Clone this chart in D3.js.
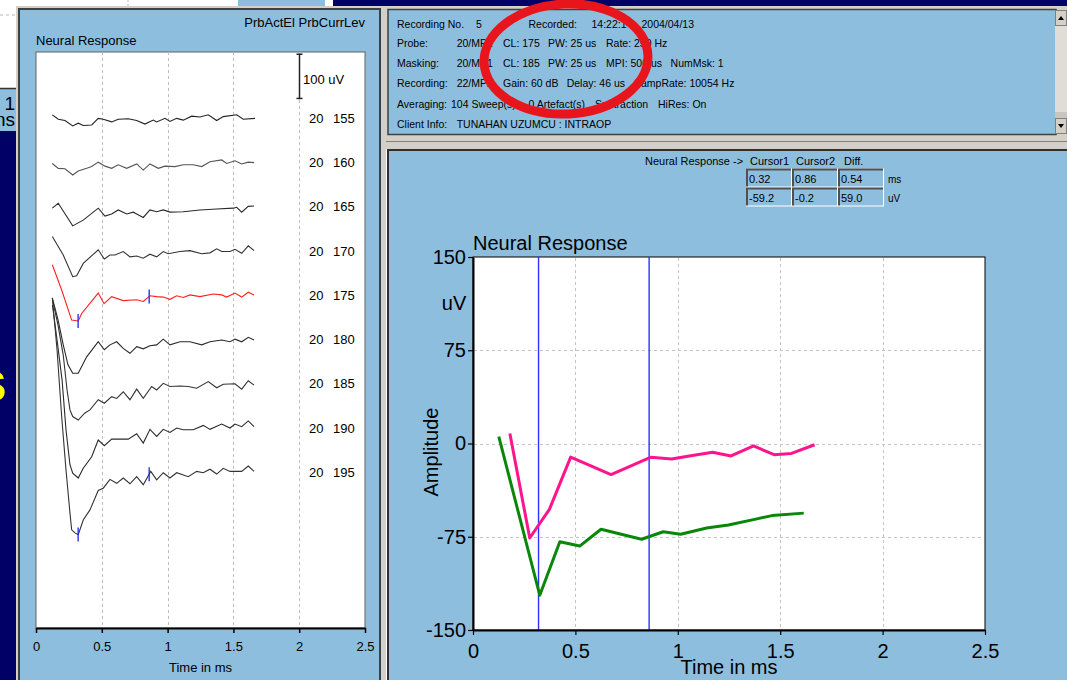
<!DOCTYPE html>
<html><head><meta charset="utf-8">
<script src="https://cdn.jsdelivr.net/npm/d3@7"></script>
<style>
body{margin:0;background:#fff;}
svg{display:block;font-family:"Liberation Sans",Arial,sans-serif;}
</style>
</head><body>
<svg id="c" width="1067" height="680"></svg>
<script>
// ---------------- DATA ----------------
const electrode = "20";
const levels = ["155","160","165","170","175","180","185","190","195"];
const selectedLevel = "175";
const markedLevels = ["175","195"];
// each trace: [time ms, amplitude uV]
const trace155 = [[0.124,8],[0.169,-2],[0.220,-5],[0.279,-17],[0.321,-11],[0.359,-16],[0.423,-15],[0.473,0],[0.511,-2],[0.575,-8],[0.625,-2],[0.701,-1],[0.765,-5],[0.828,-13],[0.891,-4],[0.917,-8],[0.980,0],[1.018,-7],[1.069,0],[1.119,-4],[1.183,5],[1.246,3],[1.309,8],[1.373,-5],[1.423,4],[1.525,8],[1.575,-2],[1.664,0]];
const trace160 = [[0.124,-2],[0.169,-13],[0.220,-14],[0.279,-28],[0.321,-19],[0.385,-13],[0.423,-9],[0.473,1],[0.524,-8],[0.575,-13],[0.625,-5],[0.689,-13],[0.765,-3],[0.815,-17],[0.866,-3],[0.929,-13],[0.980,-8],[1.056,-9],[1.119,-5],[1.195,-5],[1.259,-9],[1.322,2],[1.411,6],[1.449,-2],[1.512,4],[1.563,-3],[1.613,1],[1.657,0]];
const trace165 = [[0.124,-3],[0.169,8],[0.279,-43],[0.359,-30],[0.473,-3],[0.524,-21],[0.575,-16],[0.625,-7],[0.689,-16],[0.739,-12],[0.765,-16],[0.815,-24],[0.866,-7],[0.917,-11],[0.967,-7],[1.018,-12],[1.119,-11],[1.246,-7],[1.373,-5],[1.499,-3],[1.525,-1],[1.563,-12],[1.613,1],[1.657,2]];
const trace170 = [[0.124,33],[0.207,-9],[0.279,-58],[0.309,-56],[0.359,-28],[0.473,3],[0.519,-18],[0.562,-9],[0.600,-9],[0.663,-1],[0.714,-13],[0.765,-11],[0.815,-16],[0.866,-7],[0.917,-13],[0.967,-1],[1.005,-6],[1.094,-1],[1.170,1],[1.259,-6],[1.322,-4],[1.373,5],[1.411,-1],[1.474,-1],[1.512,4],[1.563,-5],[1.613,12],[1.657,1]];
const trace175 = [[0.124,69],[0.195,12],[0.271,-56],[0.321,-58],[0.347,-41],[0.473,5],[0.517,-19],[0.575,-3],[0.663,-12],[0.765,-10],[0.815,-14],[0.866,-1],[0.917,-3],[0.967,-4],[1.018,-9],[1.069,-1],[1.119,-5],[1.170,1],[1.246,-3],[1.347,3],[1.411,1],[1.449,-4],[1.512,5],[1.563,-4],[1.613,7],[1.657,1]];
const trace180 = [[0.124,94],[0.167,45],[0.207,-12],[0.243,-57],[0.279,-76],[0.321,-76],[0.385,-39],[0.473,-5],[0.519,-23],[0.562,-12],[0.613,-5],[0.663,-20],[0.714,-31],[0.765,-16],[0.815,-21],[0.866,-14],[0.917,-12],[0.967,1],[1.018,-12],[1.094,-5],[1.170,-5],[1.259,-12],[1.322,-5],[1.411,-1],[1.474,-5],[1.512,1],[1.563,-5],[1.613,5],[1.657,-1]];
const trace185 = [[0.125,190],[0.167,133],[0.207,65],[0.236,-14],[0.258,-59],[0.279,-74],[0.321,-82],[0.372,-66],[0.410,-59],[0.473,-36],[0.519,-44],[0.575,-29],[0.613,-33],[0.663,-18],[0.714,-36],[0.765,-12],[0.815,-33],[0.879,-6],[0.917,-14],[0.967,1],[1.018,-6],[1.094,-5],[1.157,-6],[1.221,-10],[1.309,5],[1.373,-9],[1.423,-1],[1.512,0],[1.563,-12],[1.613,7],[1.657,-3]];
const trace190 = [[0.125,278],[0.160,199],[0.198,109],[0.228,-4],[0.258,-83],[0.279,-102],[0.321,-113],[0.359,-91],[0.423,-65],[0.473,-27],[0.519,-40],[0.575,-25],[0.613,-25],[0.701,-25],[0.765,-13],[0.815,-34],[0.866,-3],[0.917,-19],[0.967,-3],[1.018,-10],[1.069,0],[1.119,-4],[1.195,-4],[1.271,6],[1.322,-3],[1.411,9],[1.474,0],[1.512,9],[1.563,3],[1.613,16],[1.657,3]];
const trace195 = [[0.124,394],[0.160,277],[0.195,126],[0.228,5],[0.258,-92],[0.271,-130],[0.296,-137],[0.321,-141],[0.359,-108],[0.410,-85],[0.473,-41],[0.511,-36],[0.562,-16],[0.613,-25],[0.663,-13],[0.714,-26],[0.765,-10],[0.815,-28],[0.872,2],[0.917,-17],[0.967,-1],[1.018,-13],[1.069,-1],[1.157,-10],[1.221,2],[1.271,-1],[1.322,7],[1.373,-4],[1.423,9],[1.474,2],[1.563,2],[1.613,14],[1.657,2]];
const traces = [trace155,trace160,trace165,trace170,trace175,trace180,trace185,trace190,trace195];
const traceSpacingUv = 100;
const scaleBarUv = 100;
const leftTimeTicks = [0,0.5,1,1.5,2,2.5];

const rightTimeTicks = [0,0.5,1,1.5,2,2.5];
const rightAmpTicks = [-150,-75,0,75,150];
const pinkTimes  = [0.18,0.277,0.373,0.477,0.674,0.869,0.97,1.056,1.17,1.26,1.37,1.47,1.555,1.668];
const pinkValues = [8,-76,-53,-11,-25,-11,-12.5,-10,-7,-10,-2,-9,-8,-1];
const greenTimes  = [0.126,0.326,0.424,0.521,0.625,0.823,0.929,1.014,1.141,1.247,1.375,1.46,1.615];
const greenValues = [5.5,-122,-79,-82.5,-69,-77,-71,-73,-68,-65.5,-61,-58,-56];

const cursorNames = ["Cursor1","Cursor2","Diff."];
const cursorMs = ["0.32","0.86","0.54"];
const cursorUv = ["-59.2","-0.2","59.0"];
const cursorTimes = [0.32,0.86];

const headerRows = [
  ["Recording No.","5","Recorded:","14:22:14","2004/04/13"],
  ["Probe:","20/MP1","CL: 175","PW: 25 us","Rate: 250 Hz"],
  ["Masking:","20/MP1","CL: 185","PW: 25 us","MPI: 500 us","NumMsk: 1"],
  ["Recording:","22/MP2","Gain: 60 dB","Delay: 46 us","SampRate: 10054 Hz"],
  ["Averaging:","104 Sweep(s)","0 Artefact(s)","Subtraction","HiRes: On"],
  ["Client Info:","TUNAHAN UZUMCU : INTRAOP"]
];

// ---------------- LAYOUT / STYLE ----------------
const BLUE="#8ebede", GRAY="#d4d0c8", NAVY="#000066";
const headerX = [
  [397,476,528.5,591.5,641.5],
  [397,456.7,503,548,606],
  [397,456.7,503,548,606,670.6],
  [397,456.7,503,566.7,634],
  [397,451,528.5,595,658],
  [397,456.7]
];
const headerY = [28,47.3,67.3,87.3,108.3,128];

const svg = d3.select("#c");
svg.append("rect").attr("width",1067).attr("height",680).attr("fill","#fff");

// background window fragments
svg.append("line").attr("x1",0).attr("x2",16).attr("y1",15).attr("y2",15)
  .attr("stroke","#bbb").attr("stroke-dasharray","3,3");
svg.append("line").attr("x1",128).attr("x2",128).attr("y1",0).attr("y2",6)
  .attr("stroke","#bbb").attr("stroke-dasharray","2,2");
svg.append("rect").attr("x",238).attr("y",0).attr("width",87).attr("height",6).attr("fill",BLUE);
svg.append("rect").attr("x",333).attr("y",0).attr("width",734).attr("height",8).attr("fill",NAVY);

// left strip
svg.append("rect").attr("x",0).attr("y",88).attr("width",16).attr("height",43).attr("fill",BLUE);
svg.append("line").attr("x1",0).attr("x2",16).attr("y1",88.5).attr("y2",88.5).attr("stroke","#333").attr("stroke-width",1.5);
svg.append("rect").attr("x",0).attr("y",131).attr("width",16).attr("height",549).attr("fill",NAVY);
svg.append("text").attr("x",15).attr("y",110).attr("text-anchor","end").attr("font-size",19).text("1");
svg.append("text").attr("x",15).attr("y",126).attr("text-anchor","end").attr("font-size",19).text("ns");
svg.append("text").attr("x",7).attr("y",401).attr("text-anchor","end").attr("font-size",58)
  .attr("font-weight","bold").attr("fill","#ffff00").text("s");

// ---------------- LEFT PANEL ----------------
svg.append("rect").attr("x",16).attr("y",6).attr("width",370).attr("height",674).attr("fill",GRAY);
svg.append("rect").attr("x",19).attr("y",9).attr("width",361).attr("height",680).attr("fill",BLUE)
  .attr("stroke","#404040").attr("stroke-width",2);

const xL = d3.scaleLinear().domain([0,2.5]).range([36,365]);
const yL = d3.scaleLinear().domain([150,-1152]).range([52,628]);

svg.append("rect").attr("x",36).attr("y",52).attr("width",329).attr("height",576)
  .attr("fill","#fff").attr("stroke","#606060").attr("stroke-width",1);

svg.append("g").selectAll("line").data(leftTimeTicks.filter(d=>d>0&&d<2.5)).join("line")
  .attr("x1",d=>Math.round(xL(d))+0.5).attr("x2",d=>Math.round(xL(d))+0.5)
  .attr("y1",52).attr("y2",628).attr("stroke","#bdbdbd").attr("stroke-dasharray","3,3");

svg.append("text").attr("x",365).attr("y",27).attr("text-anchor","end").attr("font-size",13).text("PrbActEl PrbCurrLev");
svg.append("text").attr("x",36).attr("y",44.5).attr("font-size",13).text("Neural Response");

// scale bar
const sbX = 299.5, sbTop = yL(145), sbBot = yL(145-scaleBarUv);
svg.append("line").attr("x1",sbX).attr("x2",sbX).attr("y1",sbTop).attr("y2",sbBot).attr("stroke","#222").attr("stroke-width",1.5);
[sbTop,sbBot].forEach(y=>svg.append("line").attr("x1",sbX-3).attr("x2",sbX+3).attr("y1",y).attr("y2",y).attr("stroke","#222").attr("stroke-width",1.5));
svg.append("text").attr("x",303).attr("y",83.5).attr("font-size",13).text(scaleBarUv+" uV");

const traceColors = ["#222","#555","#2a2a2a","#333","#ff2a2a","#2a2a2a","#333","#2a2a2a","#333"];
traces.forEach((tr,i)=>{
  const off = -i*traceSpacingUv;
  const line = d3.line().x(d=>xL(d[0])).y(d=>yL(d[1]+off));
  svg.append("path").attr("d",line(tr)).attr("fill","none")
    .attr("stroke", levels[i]===selectedLevel ? "#ff2020" : traceColors[i]).attr("stroke-width",1.1);
  svg.append("text").attr("x",309).attr("y",yL(off)+4.5).attr("font-size",13).text(electrode);
  svg.append("text").attr("x",333).attr("y",yL(off)+4.5).attr("font-size",13).text(levels[i]);
  if (markedLevels.includes(levels[i])) {
    cursorTimes.forEach(t=>{
      let v = tr[0][1];
      for (let k=1;k<tr.length;k++){ if (tr[k][0]>=t){ const a=tr[k-1],b=tr[k]; v=a[1]+(b[1]-a[1])*(t-a[0])/(b[0]-a[0]); break; } }
      const cx = xL(t), cy = yL(v+off);
      svg.append("line").attr("x1",cx).attr("x2",cx).attr("y1",cy-7).attr("y2",cy+7)
        .attr("stroke","#2020ff").attr("stroke-width",1.3);
    });
  }
});

const axL = svg.append("g").attr("transform","translate(0,628)")
  .call(d3.axisBottom(xL).tickValues(leftTimeTicks).tickFormat(d=>String(d)).tickSize(5).tickSizeOuter(0).tickPadding(9));
axL.select(".domain").attr("stroke","#000").attr("stroke-width",2);
axL.selectAll(".tick line").attr("stroke","#000").attr("stroke-width",1.5);
axL.selectAll("text").attr("font-size",13).attr("fill","#000").attr("font-family","Liberation Sans, Arial, sans-serif");
svg.append("text").attr("x",xL(1.25)).attr("y",671.5).attr("text-anchor","middle").attr("font-size",13).text("Time in ms");

// ---------------- RIGHT HEADER PANEL ----------------
svg.append("rect").attr("x",383).attr("y",6).attr("width",684).attr("height",132).attr("fill",GRAY);
svg.append("rect").attr("x",388).attr("y",9.5).attr("width",668).attr("height",125).attr("fill",BLUE)
  .attr("stroke","#404040").attr("stroke-width",1.5);
// scrollbar
svg.append("rect").attr("x",1055).attr("y",10).attr("width",12).attr("height",124).attr("fill","#e0ddd6");
[[10,"up"],[118,"down"]].forEach(([y,dir])=>{
  svg.append("rect").attr("x",1055.5).attr("y",y+0.5).attr("width",11).attr("height",15).attr("fill",GRAY)
    .attr("stroke","#808080");
  const cx=1061, cy=y+8;
  const pts = dir==="up" ? [[cx-3,cy+2],[cx+3,cy+2],[cx,cy-2]] : [[cx-3,cy-2],[cx+3,cy-2],[cx,cy+2]];
  svg.append("polygon").attr("points",pts.map(p=>p.join(",")).join(" ")).attr("fill","#000");
});
svg.append("rect").attr("x",1055).attr("y",112).attr("width",12).attr("height",6).attr("fill","#c8c5be");

headerRows.forEach((row,r)=>{
  row.forEach((s,c)=>{
    svg.append("text").attr("x",headerX[r][c]).attr("y",headerY[r]).attr("font-size",10.5).attr("fill","#000").text(s);
  });
});
// red hand-drawn circle
svg.append("ellipse").attr("cx",566).attr("cy",59).attr("rx",82).attr("ry",55)
  .attr("transform","rotate(-3,566,59)")
  .attr("fill","none").attr("stroke","#e8161c").attr("stroke-width",9);

// separator
svg.append("rect").attr("x",383).attr("y",137).attr("width",684).attr("height",12).attr("fill",GRAY);
svg.append("line").attr("x1",386).attr("x2",1067).attr("y1",141.5).attr("y2",141.5).attr("stroke","#808080");

// ---------------- RIGHT LOWER PANEL ----------------
svg.append("rect").attr("x",388).attr("y",150).attr("width",685).attr("height",540).attr("fill",BLUE)
  .attr("stroke","#303030").attr("stroke-width",2);

// cursor table
svg.append("text").attr("x",645).attr("y",164.5).attr("font-size",11).text("Neural Response ->");
const boxX = [746,792,838], boxW = 46;
cursorNames.forEach((n,i)=>svg.append("text").attr("x",boxX[i]+ (i===2?6:4)).attr("y",164.5).attr("font-size",11).text(n));
[[cursorMs,168.5,"ms"],[cursorUv,187.5,"uV"]].forEach(([vals,y,unit])=>{
  vals.forEach((v,i)=>{
    svg.append("rect").attr("x",boxX[i]+0.5).attr("y",y+0.5).attr("width",boxW-1).attr("height",18).attr("fill",BLUE)
      .attr("stroke","#ffffff").attr("stroke-width",1);
    svg.append("path").attr("d",`M${boxX[i]+1},${y+18} V${y+1} H${boxX[i]+boxW-1}`).attr("fill","none")
      .attr("stroke","#505050").attr("stroke-width",2);
    svg.append("text").attr("x",boxX[i]+3).attr("y",y+14).attr("font-size",11).text(v);
  });
  svg.append("text").attr("x",888).attr("y",y+14.5).attr("font-size",10).text(unit);
});

// chart
const xR = d3.scaleLinear().domain([0,2.5]).range([473,985]);
const yR = d3.scaleLinear().domain([-150,150]).range([630,257]);
svg.append("rect").attr("x",473).attr("y",257).attr("width",512).attr("height",373).attr("fill","#fff")
  .attr("stroke","#000").attr("stroke-width",1);
svg.append("g").selectAll("line").data(rightTimeTicks.filter(d=>d>0&&d<2.5)).join("line")
  .attr("x1",d=>Math.round(xR(d))+0.5).attr("x2",d=>Math.round(xR(d))+0.5).attr("y1",258).attr("y2",629)
  .attr("stroke","#c4c4c4").attr("stroke-dasharray","3,3");
svg.append("g").selectAll("line").data(rightAmpTicks.filter(d=>d>-150&&d<150)).join("line")
  .attr("y1",d=>Math.round(yR(d))+0.5).attr("y2",d=>Math.round(yR(d))+0.5).attr("x1",474).attr("x2",984)
  .attr("stroke","#c4c4c4").attr("stroke-dasharray","3,3");
svg.append("g").selectAll("line").data(cursorTimes).join("line")
  .attr("x1",d=>xR(d)).attr("x2",d=>xR(d)).attr("y1",257).attr("y2",630)
  .style("stroke","#2f2fff").style("stroke-width","1.4px");

const lineR = d3.line().x(d=>xR(d[0])).y(d=>yR(d[1]));
svg.append("path").attr("d",lineR(greenTimes.map((t,i)=>[t,greenValues[i]]))).attr("fill","none")
  .attr("stroke","#0a870a").attr("stroke-width",3).attr("stroke-linejoin","round");
svg.append("path").attr("d",lineR(pinkTimes.map((t,i)=>[t,pinkValues[i]]))).attr("fill","none")
  .attr("stroke","#ff148c").attr("stroke-width",3).attr("stroke-linejoin","round");

const axRy = svg.append("g").attr("transform","translate(473,0)")
  .call(d3.axisLeft(yR).tickValues(rightAmpTicks).tickFormat(d=>String(d)).tickSize(5).tickSizeOuter(0).tickPadding(2));
const axRx = svg.append("g").attr("transform","translate(0,630)")
  .call(d3.axisBottom(xR).tickValues(rightTimeTicks).tickFormat(d=>String(d)).tickSize(5).tickSizeOuter(0).tickPadding(9));
[axRy,axRx].forEach(a=>{
  a.select(".domain").attr("stroke","#000").attr("stroke-width",2);
  a.selectAll(".tick line").attr("stroke","#000").attr("stroke-width",1.2);
  a.selectAll("text").attr("font-size",20).attr("fill","#000").attr("font-family","Liberation Sans, Arial, sans-serif");
});
svg.append("text").attr("x",473).attr("y",250).attr("font-size",20).text("Neural Response");
svg.append("text").attr("x",454).attr("y",310).attr("text-anchor","middle").attr("font-size",20).text("uV");
svg.append("text").attr("transform","translate(438,452) rotate(-90)").attr("text-anchor","middle").attr("font-size",20).text("Amplitude");
svg.append("text").attr("x",xR(1.25)).attr("y",674).attr("text-anchor","middle").attr("font-size",20).text("Time in ms");
</script>
</body></html>
